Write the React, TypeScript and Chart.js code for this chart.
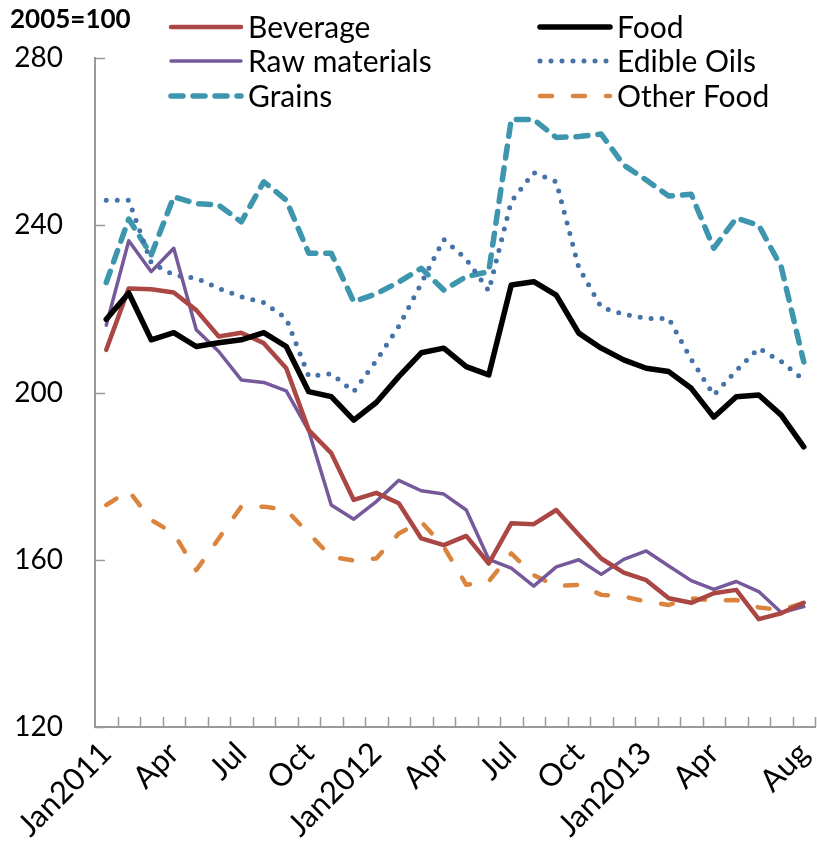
import React, { useEffect, useRef } from "react";
import { Chart, registerables } from "chart.js";

Chart.register(...registerables);

const categories = [
  "Jan2011", "Feb2011", "Mar2011", "Apr2011", "May2011", "Jun2011", "Jul2011", "Aug2011",
  "Sep2011", "Oct2011", "Nov2011", "Dec2011", "Jan2012", "Feb2012", "Mar2012", "Apr2012",
  "May2012", "Jun2012", "Jul2012", "Aug2012", "Sep2012", "Oct2012", "Nov2012", "Dec2012",
  "Jan2013", "Feb2013", "Mar2013", "Apr2013", "May2013", "Jun2013", "Jul2013", "Aug2013",
];

const tickLabels = [
  "Jan2011", "", "", "Apr", "", "", "Jul", "", "", "Oct", "", "",
  "Jan2012", "", "", "Apr", "", "", "Jul", "", "", "Oct", "", "",
  "Jan2013", "", "", "Apr", "", "", "", "Aug",
];

const yTicks = [120, 160, 200, 240, 280];

const beverage = [210.2, 224.9, 224.7, 223.9, 219.7, 213.4, 214.3, 211.8, 205.8, 191, 185.5, 174.3, 176, 173.5, 165.1, 163.5, 165.7, 159.1, 168.7, 168.5, 171.9, 166, 160.3, 156.9, 155.1, 150.8, 149.7, 152, 152.8, 145.8, 147.2, 149.7];
const food = [217.5, 223.8, 212.6, 214.3, 211, 211.9, 212.6, 214.3, 211, 200.2, 199, 193.4, 197.6, 203.8, 209.5, 210.6, 206.2, 204.2, 225.7, 226.5, 223.3, 214.2, 210.6, 207.8, 205.8, 205, 201, 194.1, 199, 199.4, 194.6, 187];
const rawMaterials = [216.1, 236.3, 228.9, 234.5, 215, 209.8, 203, 202.4, 200.4, 190.8, 173.1, 169.7, 173.9, 179, 176.5, 175.7, 171.9, 160.1, 158, 153.7, 158.3, 160, 156.5, 160.1, 162.1, 158.5, 155, 152.9, 154.8, 152.4, 147.4, 148.8];
const edibleOils = [246, 246, 231, 228.1, 227.3, 224.9, 222.9, 221.5, 217.7, 203.9, 204.5, 200.2, 207.6, 215.8, 226.1, 236.6, 231.9, 224.3, 245.7, 252.6, 250.4, 229.9, 220.4, 218.7, 217.7, 217.7, 207.9, 199.4, 205.2, 210.6, 207.4, 203];
const grains = [226.3, 241.5, 232.9, 246.8, 245.2, 244.8, 240.8, 250.4, 246, 233.3, 233.3, 221.7, 223.6, 226.4, 229.7, 224.5, 227.7, 228.9, 265.3, 265.3, 261, 261.2, 261.8, 254.4, 250.8, 247, 247.4, 234.5, 241.7, 240, 230, 207.3];
const otherFood = [173.1, 176.5, 169.5, 166.3, 157.5, 165.1, 172.7, 172.7, 171.9, 166.3, 160.7, 159.8, 160.3, 166.3, 169.1, 163.1, 154, 154.8, 161.5, 156.3, 153.7, 154, 151.6, 151.2, 150, 149.2, 150.8, 150.2, 150.4, 148.6, 148, 149.7];

const FONT = "Lato, 'DejaVu Sans', sans-serif";
const AXIS_COLOR = "#9a9a9a";

type SeriesStyle = {
  label: string;
  data: number[];
  color: string;
  width: number;
  dash: number[];
  order: number;
};

const series: SeriesStyle[] = [
  { label: "Beverage", data: beverage, color: "#AA4643", width: 4.5, dash: [], order: 2 },
  { label: "Food", data: food, color: "#000000", width: 5.5, dash: [], order: 1 },
  { label: "Raw materials", data: rawMaterials, color: "#76599A", width: 3.5, dash: [], order: 3 },
  { label: "Edible Oils", data: edibleOils, color: "#4572A7", width: 5, dash: [0, 11], order: 4 },
  { label: "Grains", data: grains, color: "#3D96AE", width: 5.5, dash: [12, 10], order: 5 },
  { label: "Other Food", data: otherFood, color: "#DB843D", width: 4.5, dash: [12, 21], order: 6 },
];

const decorPlugin = {
  id: "decor",
  afterDraw(chart: any) {
    const ctx = chart.ctx as CanvasRenderingContext2D;
    const xs = chart.scales.x;
    const ys = chart.scales.y;
    const area = chart.chartArea;
    ctx.save();
    ctx.strokeStyle = AXIS_COLOR;
    ctx.lineWidth = 1.5;
    ctx.setLineDash([]);
    for (let i = 1; i <= categories.length; i++) {
      const px = Math.round(xs.getPixelForValue(i - 0.5)) + 0.5;
      ctx.beginPath();
      ctx.moveTo(px, area.bottom);
      ctx.lineTo(px, area.bottom - 10);
      ctx.stroke();
    }
    for (const v of yTicks) {
      const py = Math.round(ys.getPixelForValue(v)) + 0.5;
      ctx.beginPath();
      ctx.moveTo(area.left, py);
      ctx.lineTo(area.left + 10, py);
      ctx.stroke();
    }
    ctx.fillStyle = "#000";
    ctx.font = `bold 26px ${FONT}`;
    ctx.textAlign = "left";
    ctx.textBaseline = "middle";
    ctx.fillText("2005=100", 10, 20);
    const colLineX = [171, 540];
    const rowY = [27, 61, 96];
    ctx.font = `30px ${FONT}`;
    series.forEach((s, i) => {
      const col = i % 2;
      const row = Math.floor(i / 2);
      const x0 = colLineX[col];
      const y0 = rowY[row];
      ctx.strokeStyle = s.color;
      ctx.lineWidth = s.width;
      ctx.lineCap = "round";
      ctx.setLineDash(s.dash);
      ctx.beginPath();
      ctx.moveTo(x0, y0);
      ctx.lineTo(x0 + 70, y0);
      ctx.stroke();
      ctx.setLineDash([]);
      ctx.fillStyle = "#000";
      ctx.fillText(s.label, x0 + 77, y0 + 1);
    });
    ctx.restore();
  },
};

export default function App() {
  const ref = useRef<HTMLCanvasElement | null>(null);
  useEffect(() => {
    if (!ref.current) return;
    const chart = new Chart(ref.current, {
      type: "line",
      data: {
        labels: categories,
        datasets: series.map((s) => ({
          label: s.label,
          data: s.data,
          borderColor: s.color,
          backgroundColor: s.color,
          borderWidth: s.width,
          borderDash: s.dash,
          borderCapStyle: "round",
          borderJoinStyle: "round",
          pointRadius: 0,
          pointHoverRadius: 0,
          tension: 0,
          fill: false,
          order: s.order,
        })),
      },
      options: {
        responsive: false,
        animation: false,
        layout: { padding: { top: 58, right: 2, left: 0, bottom: 0 } },
        plugins: {
          legend: { display: false },
          tooltip: { enabled: false },
          title: { display: false },
        },
        scales: {
          x: {
            type: "category",
            offset: true,
            grid: { display: true, drawOnChartArea: false, drawTicks: false, offset: true },
            border: { display: true, color: AXIS_COLOR, width: 2 },
            ticks: {
              autoSkip: false,
              maxRotation: 45,
              minRotation: 45,
              padding: 8,
              color: "#000",
              font: { family: FONT, size: 31 },
              callback: (_v: any, i: number) => tickLabels[i],
            },
            afterFit: (s: any) => {
              s.height = 119;
              s.paddingRight = 0;
              s.paddingLeft = 0;
            },
          },
          y: {
            min: 120,
            max: 280,
            grid: { display: true, drawOnChartArea: false, drawTicks: false },
            border: { display: true, color: AXIS_COLOR, width: 2 },
            ticks: {
              stepSize: 40,
              padding: 32,
              color: "#000",
              font: { family: FONT, size: 28 },
            },
            afterFit: (s: any) => {
              s.width = 95;
              s.paddingTop = 0;
              s.paddingBottom = 0;
            },
          },
        },
      },
      plugins: [decorPlugin],
    });
    return () => chart.destroy();
  }, []);
  return (
    <div style={{ position: "absolute", left: 0, top: 0, width: 817, height: 846 }}>
      <canvas ref={ref} width={817} height={846} style={{ display: "block" }} />
    </div>
  );
}
